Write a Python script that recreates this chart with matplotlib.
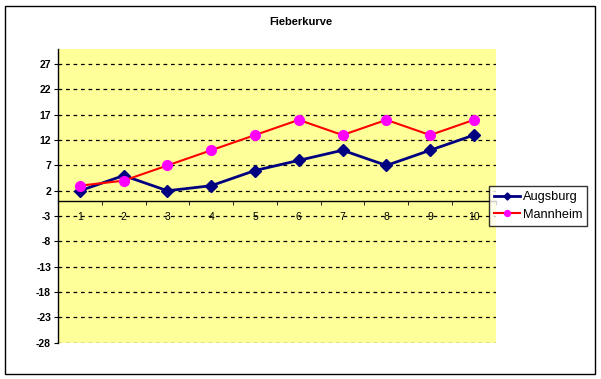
import numpy as np
import matplotlib.pyplot as plt
from matplotlib.patches import Rectangle

# data
kategorien = [1, 2, 3, 4, 5, 6, 7, 8, 9, 10]
augsburg = [2, 5, 2, 3, 6, 8, 10, 7, 10, 13]
mannheim = [3, 4, 7, 10, 13, 16, 13, 16, 13, 16]
y_ticks = [-28, -23, -18, -13, -8, -3, 2, 7, 12, 17, 22, 27]

plt.rcParams['font.family'] = ['Liberation Sans', 'DejaVu Sans']
plt.rcParams['axes.unicode_minus'] = False

fig = plt.figure(figsize=(6.01, 3.79), dpi=100)
# chart border
fig.patches.append(Rectangle((5 / 601, 5 / 379), 590 / 601, 368 / 379, transform=fig.transFigure,
                             fill=False, edgecolor='black', linewidth=1))

ax = fig.add_axes([0.0965, 0.0958, 0.7285, 0.775])
ax.set_facecolor('#FFFF99')

ax.plot(kategorien, augsburg, color='#000080', linewidth=2, marker='D', markersize=6,
        markerfacecolor='#000080', markeredgecolor='#000080', label='Augsburg', zorder=4)
ax.plot(kategorien, mannheim, color='#FF0000', linewidth=1.5, marker='o', markersize=7,
        markerfacecolor='#FF00FF', markeredgecolor='#FF00FF', label='Mannheim', zorder=4)

ax.set_xlim(0.5, 10.5)
ax.set_ylim(-28, 30)
ax.set_yticks(y_ticks)
ax.yaxis.grid(True, linestyle=(0, (3, 3)), color='black', linewidth=0.9)
ax.set_axisbelow(True)

ax.spines['top'].set_visible(False)
ax.spines['right'].set_visible(False)
ax.spines['bottom'].set_position(('data', 0))
ax.spines['bottom'].set_linewidth(1)
ax.spines['left'].set_linewidth(1)

ax.set_xticks(kategorien)
ax.set_xticks(np.arange(0.5, 11, 1), minor=True)
ax.tick_params(axis='x', which='major', length=0, pad=8, labelsize=7.5)
ax.tick_params(axis='x', which='minor', length=3, direction='out')
ax.tick_params(axis='y', length=3, direction='out', labelsize=7.5, pad=2)
for lbl in ax.get_yticklabels():
    lbl.set_fontweight('bold')

fig.text(0.5, 0.942, 'Fieberkurve', ha='center', va='center', fontsize=8, fontweight='bold')

leg = fig.legend(loc='upper left', bbox_to_anchor=(489 / 601, 1 - 186 / 379), fontsize=9.2,
                 frameon=True, fancybox=False, edgecolor='black', borderpad=0.4,
                 handlelength=2.0, handletextpad=0.25, labelspacing=0.45, borderaxespad=0,
                 markerscale=0.6)
leg.get_frame().set_linewidth(1)

fig.savefig('out.png', dpi=100)
